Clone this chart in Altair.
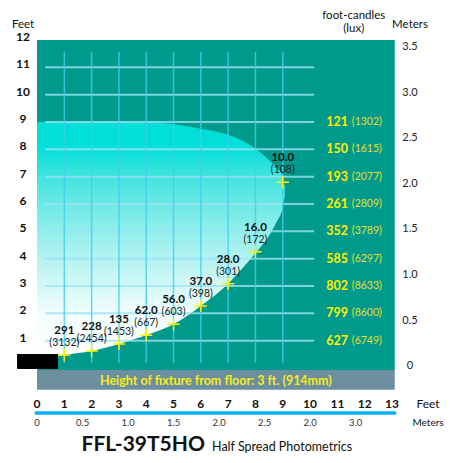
import altair as alt
import pandas as pd

FONT = "Lato"

# ---------------- data ----------------
feet_ticks = list(range(0, 14))
left_ticks = list(range(1, 13))
right_meter_vals = [0, 0.5, 1.0, 1.5, 2.0, 2.5, 3.0, 3.5]
right_meter_labels = ["0", "0.5", "1.0", "1.5", "2.0", "2.5", "3.0", "3.5"]
bottom_meter_vals = [0, 0.5, 1.0, 1.5, 2.0, 2.5, 3.0, 3.5]
bottom_meter_labels = ["0", "0.5", "1.0", "1.5", "2.0", "2.5", "2.0", "3.0"]

fc_levels = [9, 8, 7, 6, 5, 4, 3, 2, 1]
fc_values = ["121", "150", "193", "261", "352", "585", "802", "799", "627"]
lux_values = ["(1302)", "(1615)", "(2077)", "(2809)", "(3789)", "(6297)", "(8633)", "(8600)", "(6749)"]

point_x = [1, 2, 3, 4, 5, 6, 7, 8, 9]
point_y = [0.48, 0.62, 0.88, 1.2, 1.6, 2.27, 3.08, 4.25, 6.8]
point_fc = ["291", "228", "135", "62.0", "56.0", "37.0", "28.0", "16.0", "10.0"]
point_lux = ["(3132)", "(2454)", "(1453)", "(667)", "(603)", "(398)", "(301)", "(172)", "(108)"]

beam_x = [0, 0.8, 1, 2, 3, 4, 5, 6, 7, 7.5, 8, 8.5, 8.75, 9.0, 9.07]
beam_top = [9, 9, 9, 9, 9, 8.98, 8.92, 8.75, 8.53, 8.32, 8.02, 7.6, 7.35, 7.0, 6.6]
beam_bottom = [0.45, 0.45, 0.48, 0.62, 0.88, 1.2, 1.6, 2.27, 3.08, 3.62, 4.2, 4.85, 5.3, 5.9, 6.3]

M_TO_FT = 3.333

# ---------------- scales ----------------
xs = alt.Scale(domain=[0, 13], nice=False, zero=False)
ys = alt.Scale(domain=[0, 12], nice=False, zero=False)


def X(f="x"):
    return alt.X(f"{f}:Q", scale=xs, axis=None)


def Y(f="y"):
    return alt.Y(f"{f}:Q", scale=ys, axis=None)


def text_layer(df, **mk):
    return alt.Chart(df).mark_text(font=FONT, **mk).encode(
        x=X(), y=Y(), text="t:N")


# teal panel & gray band
panel = alt.Chart(pd.DataFrame({"x": [0], "x2": [13.1], "y": [-0.07], "y2": [12]})).mark_rect(
    color="#009A8C").encode(x=X(), x2="x2:Q", y=Y(), y2="y2:Q")
band = alt.Chart(pd.DataFrame({"x": [0], "x2": [13.1], "y": [-0.8], "y2": [-0.07]})).mark_rect(
    color="#6B8F9F").encode(x=X(), x2="x2:Q", y=Y(), y2="y2:Q")

# beam area
beam_df = pd.DataFrame({"x": beam_x, "y": beam_bottom, "y2": beam_top})
grad = alt.LinearGradient(
    gradient="linear", x1=0, x2=0, y1=0, y2=1,
    stops=[
        alt.GradientStop(color="#00DFD7", offset=0),
        alt.GradientStop(color="#00E0D8", offset=0.1),
        alt.GradientStop(color="#3EE4DE", offset=0.23),
        alt.GradientStop(color="#6CE9E5", offset=0.35),
        alt.GradientStop(color="#92EEEB", offset=0.47),
        alt.GradientStop(color="#B2F3F1", offset=0.58),
        alt.GradientStop(color="#D4F8F7", offset=0.7),
        alt.GradientStop(color="#F2FDFD", offset=0.82),
        alt.GradientStop(color="#FFFFFF", offset=1),
    ])
beam = alt.Chart(beam_df).mark_area(color=grad, interpolate="monotone").encode(
    x=X(), y=Y(), y2="y2:Q")

# gridlines
hgrid_df = pd.DataFrame({"y": list(range(1, 12))})
hgrid_df["x"] = 0.3
hgrid_df["x2"] = 10.15
hgrid = alt.Chart(hgrid_df).mark_rule(color="#9BE2F7", opacity=0.8, strokeWidth=2).encode(
    x=X(), x2="x2:Q", y=Y())
vgrid_df = pd.DataFrame({"x": list(range(1, 10))})
vgrid_df["y"] = 0.18
vgrid_df["y2"] = 11.57
vgrid = alt.Chart(vgrid_df).mark_rule(color="#40CDEE", opacity=0.8, strokeWidth=1.5).encode(
    x=X(), y=Y(), y2="y2:Q")

# fixture block
fixture = alt.Chart(pd.DataFrame({"x": [-0.73], "x2": [0.77], "y": [-0.04], "y2": [0.51]})).mark_rect(
    color="#000000").encode(x=X(), x2="x2:Q", y=Y(), y2="y2:Q")

# measurement points
pts = pd.DataFrame({"x": point_x, "y": point_y, "fc": point_fc, "lux": point_lux})
cross = alt.Chart(pts).mark_point(
    shape="M-1,0L1,0M0,-1L0,1", size=150, filled=False, color="#FFF200",
    strokeWidth=1.5, opacity=1).encode(x=X(), y=Y())
pfc = alt.Chart(pts).mark_text(font=FONT, fontSize=11.5, fontWeight="bold", color="#111111",
                               dy=-24, baseline="middle").encode(x=X(), y=Y(), text="fc:N")
plux = alt.Chart(pts).mark_text(font=FONT, fontSize=10.5, color="#222222",
                                dy=-12, baseline="middle").encode(x=X(), y=Y(), text="lux:N")

# right foot-candle column
fc_df = pd.DataFrame({"y": fc_levels, "fc": fc_values, "lux": lux_values})
fc_df["x"] = 11.39
fc_df["x2"] = 11.53
rfc = alt.Chart(fc_df).mark_text(font=FONT, fontSize=12.5, fontWeight="bold", color="#FFF000",
                                 align="right", baseline="middle").encode(x=X(), y=Y(), text="fc:N")
rlux = alt.Chart(fc_df).mark_text(font=FONT, fontSize=10.5, color="#E6E030",
                                  align="left", baseline="middle").encode(x=X("x2"), y=Y(), text="lux:N")

# left feet labels
lt = pd.DataFrame({"t": [str(v) for v in left_ticks], "y": left_ticks})
lt["x"] = -0.51
left_lab = text_layer(lt, fontSize=12, fontWeight="bold", color="#111111", baseline="middle", dy=-3)

# right meter labels
rm = pd.DataFrame({"t": right_meter_labels, "y": [v * M_TO_FT + 0.07 for v in right_meter_vals]})
rm["x"] = 13.66
right_lab = text_layer(rm, fontSize=11, color="#222222", baseline="middle")

# headers
hdr = pd.DataFrame({
    "t": ["Feet", "foot-candles", "(lux)", "Meters"],
    "x": [-0.51, 11.6, 11.6, 13.66],
    "y": [12.55, 12.86, 12.4, 12.55],
})
headers = text_layer(hdr, fontSize=11.5, color="#111111", baseline="middle")

# band text
bt = pd.DataFrame({"t": ["Height of fixture from floor: 3 ft. (914mm)"], "x": [6.55], "y": [-0.46]})
band_text = text_layer(bt, fontSize=12.5, fontWeight="bold", color="#F8EC1C", baseline="middle")

# bottom feet axis
bf = pd.DataFrame({"t": [str(v) for v in feet_ticks], "x": feet_ticks})
bf["y"] = -1.32
bottom_feet = text_layer(bf, fontSize=12, fontWeight="bold", color="#111111", baseline="middle")
blue_line = alt.Chart(pd.DataFrame({"x": [-0.03], "x2": [13.1], "y": [-1.65]})).mark_rule(
    color="#00B2F0", strokeWidth=3.5, strokeCap="round").encode(x=X(), x2="x2:Q", y=Y())
bm = pd.DataFrame({"t": bottom_meter_labels, "x": [v * M_TO_FT for v in bottom_meter_vals]})
bm["y"] = -2.01
bottom_m = text_layer(bm, fontSize=9.5, color="#333333", baseline="middle")
bunits = pd.DataFrame({"t": ["Feet", "Meters"], "x": [14.32, 14.32], "y": [-1.32, -2.01],
                       "s": [12, 10]})
bottom_units = alt.Chart(bunits).mark_text(font=FONT, color="#111111", baseline="middle").encode(
    x=X(), y=Y(), text="t:N", size=alt.Size("s:Q", scale=None, legend=None))

# title
t1 = text_layer(pd.DataFrame({"t": ["FFL-39T5HO"], "x": [6.15], "y": [-3.04]}),
                fontSize=21, fontWeight="bold", color="#111111", align="right", baseline="alphabetic")
t2 = text_layer(pd.DataFrame({"t": ["Half Spread Photometrics"], "x": [6.41], "y": [-3.04]}),
                fontSize=12.5, color="#111111", align="left", baseline="alphabetic")

chart = alt.layer(
    panel, band, beam, hgrid, vgrid, fixture, cross, pfc, plux, rfc, rlux,
    left_lab, right_lab, headers, band_text, bottom_feet, blue_line, bottom_m, bottom_units,
    t1, t2,
).properties(
    width=355, height=328,
    autosize=alt.AutoSizeParams(type="none"),
    padding={"left": 29, "top": 32, "right": 53, "bottom": 87},
    background="white",
).configure_view(strokeWidth=0)

chart.save("out.html", embed_options={"renderer": "svg", "actions": False})
